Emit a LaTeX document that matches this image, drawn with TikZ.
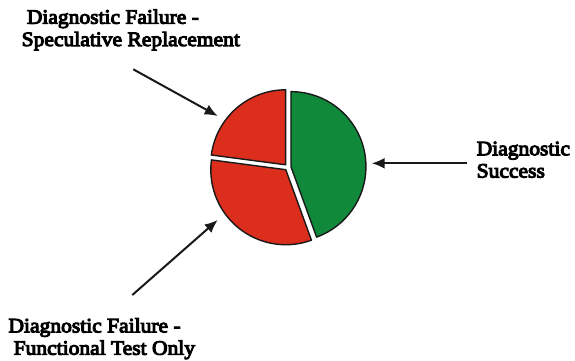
\documentclass[tikz,border=0pt]{standalone}
\usepackage{fontspec}
\setmainfont{Liberation Serif}[BoldFont={Liberation Serif}, BoldFeatures={FakeBold=5, FakeStretch=1.05}]
\usetikzlibrary{arrows.meta}
\definecolor{pieGreen}{RGB}{16,137,59}
\definecolor{pieRed}{RGB}{220,46,28}
\begin{document}
\begin{tikzpicture}[x=1pt,y=-1pt,
  slice/.style={draw=black!90, line width=1.4pt, line join=round},
  caption/.style={inner sep=0pt, anchor=north west, align=left,
    font=\fontsize{20.5}{22.3}\selectfont\bfseries},
  pointer/.style={draw=black!90, line width=2pt,
    -{Latex[length=13pt,width=11pt]}}]
  % canvas
  \useasboundingbox[fill=white] (0,0) rectangle (575,360);

  % pie centre and radius
  \coordinate (O) at (287.8,167.2);
  \def\pieR{75}

  % slices, each pushed out a little along its middle angle
  \coordinate (cG) at ([shift={(-10:3.2)}]O);
  \coordinate (cA) at ([shift={(-131.25:3.2)}]O);
  \coordinate (cB) at ([shift={(128.75:3.2)}]O);
  \filldraw[slice, fill=pieGreen] (cG) -- ++(-90:\pieR)
    arc[start angle=-90, end angle=70, radius=\pieR] -- cycle;
  \filldraw[slice, fill=pieRed] (cA) -- ++(-172.5:\pieR)
    arc[start angle=-172.5, end angle=-90, radius=\pieR] -- cycle;
  \filldraw[slice, fill=pieRed] (cB) -- ++(70:\pieR)
    arc[start angle=70, end angle=187.5, radius=\pieR] -- cycle;

  % captions
  \node[caption] (spec) at (21.5,9.3)
    {\hspace{0.25em}Diagnostic Failure -\\Speculative Replacement};
  \node[caption] (func) at (8.3,318)
    {Diagnostic Failure -\\\hspace{0.25em}Functional Test Only};
  \node[caption] (succ) at (476.5,141.5) {Diagnostic\\Success};

  % pointers
  \coordinate (specTail) at (133.3,69.3);
  \coordinate (specTip) at (217.7,116);
  \coordinate (funcTail) at (132.3,295);
  \coordinate (funcTip) at (217.7,220);
  \coordinate (succTail) at (466.7,163.3);
  \coordinate (succTip) at (371.7,163.3);
  \draw[pointer] (specTail) -- (specTip);
  \draw[pointer] (funcTail) -- (funcTip);
  \draw[pointer] (succTail) -- (succTip);
\end{tikzpicture}
\end{document}
